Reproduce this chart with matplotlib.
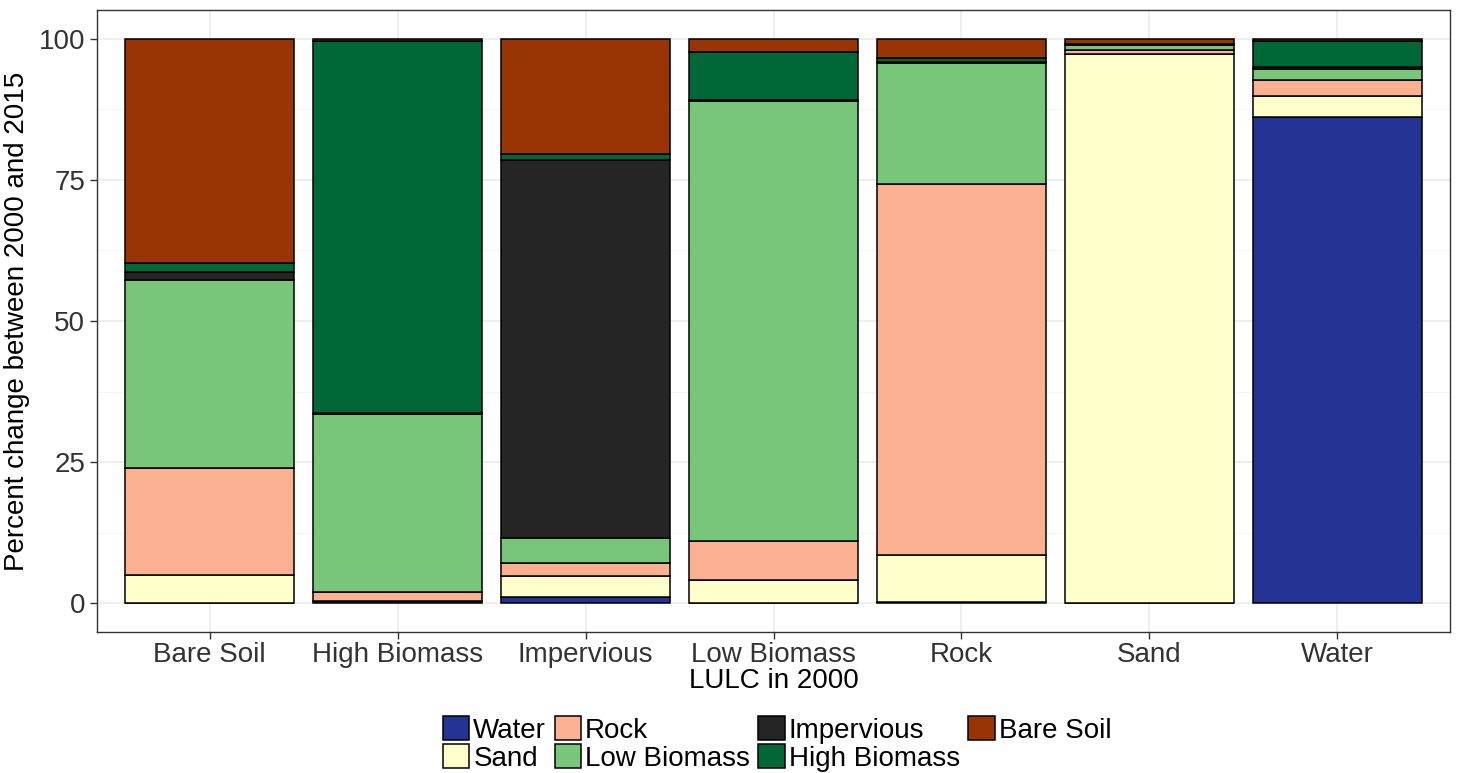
import numpy as np
import matplotlib.pyplot as plt
import matplotlib.patches as mpatches

plt.rcParams['font.family'] = ['Liberation Sans', 'DejaVu Sans']

# LULC in 2000 (x axis)
categories = ['Bare Soil', 'High Biomass', 'Impervious', 'Low Biomass', 'Rock', 'Sand', 'Water']

# share (%) of each 2015 class, stacked bottom to top
water      = [0.0, 0.3, 1.1, 0.0, 0.2, 0.0, 86.2]
sand       = [5.0, 0.1, 3.75, 4.1, 8.3, 97.4, 3.7]
rock       = [18.9, 1.6, 2.25, 6.9, 65.8, 0.7, 2.8]
low_bio    = [33.4, 31.5, 4.4, 78.0, 21.4, 0.9, 2.0]
impervious = [1.3, 0.1, 67.0, 0.2, 0.2, 0.0, 0.4]
high_bio   = [1.7, 66.0, 1.1, 8.5, 0.8, 0.1, 4.6]
bare_soil  = [39.7, 0.4, 20.4, 2.3, 3.3, 0.9, 0.3]

series = [
    ('Water', water, '#253494'),
    ('Sand', sand, '#FFFFCC'),
    ('Rock', rock, '#FBB091'),
    ('Low Biomass', low_bio, '#78C679'),
    ('Impervious', impervious, '#252525'),
    ('High Biomass', high_bio, '#006837'),
    ('Bare Soil', bare_soil, '#993404'),
]

fig = plt.figure(figsize=(14.58, 7.73), dpi=100)
ax = fig.add_axes([97 / 1458, 1 - 632 / 773, 1353 / 1458, 622 / 773])

x = np.arange(len(categories))
bottom = np.zeros(len(categories))
handles = {}
for name, vals, col in series:
    vals = np.array(vals)
    ax.bar(x, vals, width=0.9, bottom=bottom, color=col, edgecolor='black',
           linewidth=1.1, zorder=3)
    bottom += vals
    handles[name] = mpatches.Patch(facecolor=col, edgecolor='black', linewidth=1.1, label=name)

ax.set_xlim(-0.6, 6.6)
ax.set_ylim(-5.14, 105.14)
ax.set_xticks(x)
ax.set_xticklabels(categories)
ax.set_yticks([0, 25, 50, 75, 100])
ax.set_yticks([12.5, 37.5, 62.5, 87.5], minor=True)
ax.grid(True, which='major', color='#EBEBEB', linewidth=1.2, zorder=0)
ax.grid(True, which='minor', axis='y', color='#F5F5F5', linewidth=0.8, zorder=0)
ax.set_axisbelow(True)
for s in ax.spines.values():
    s.set_color('#333333')
    s.set_linewidth(1.0)
ax.tick_params(axis='both', labelsize=20, colors='#333333', length=5, width=1.0)
ax.tick_params(axis='y', which='minor', length=0)
ax.tick_params(axis='x', pad=2)

ax.set_xlabel('LULC in 2000', fontsize=20, labelpad=0)
ax.set_ylabel('Percent change between 2000 and 2015', fontsize=20, labelpad=6)

order = ['Water', 'Sand', 'Rock', 'Low Biomass', 'Impervious', 'High Biomass', 'Bare Soil']
fig.legend(handles=[handles[n] for n in order], loc='center', bbox_to_anchor=(0.533, 0.0375),
           ncol=4, frameon=False, fontsize=20, handlelength=0.95, handleheight=0.95,
           handletextpad=0.15, columnspacing=0.3, labelspacing=0.0, borderpad=0.1)

fig.savefig('out.png', dpi=100)
